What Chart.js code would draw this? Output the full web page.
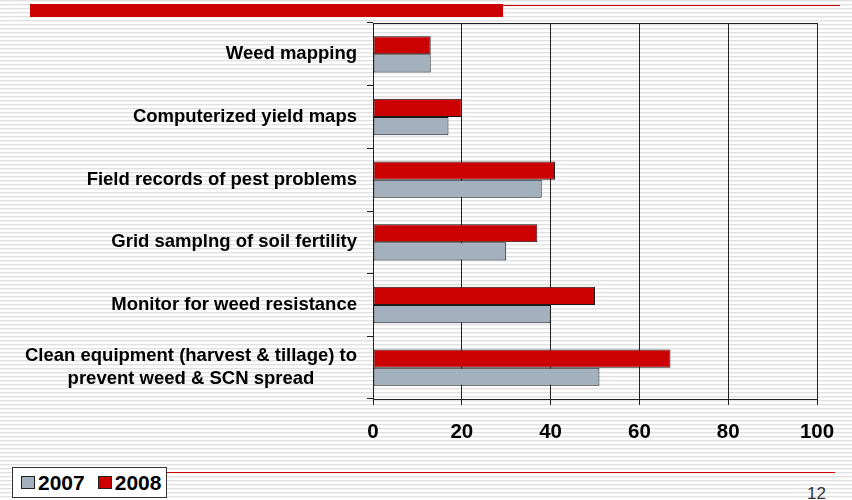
<!DOCTYPE html>
<html>
<head>
<meta charset="utf-8">
<script src="https://cdn.jsdelivr.net/npm/chart.js@4/dist/chart.umd.min.js"></script>
<style>
    body {
        margin: 0;
        width: 852px;
        height: 500px;
        position: relative;
        overflow: hidden;
        font-family: 'Liberation Sans', Arial, sans-serif;
        background: repeating-linear-gradient(to bottom, #e1e1e1 0px, #e1e1e1 1px, #f3f3f3 1px, #f3f3f3 2px, #ffffff 2px, #ffffff 4px);
    }
    #chart-box {
        position: absolute;
        left: 0;
        top: 0;
        width: 852px;
        height: 460px;
    }
    .top-bar {
        position: absolute;
        left: 30px;
        top: 4px;
        width: 473px;
        height: 13px;
        background: #cc0000;
    }
    .top-line {
        position: absolute;
        left: 503px;
        top: 5px;
        width: 337px;
        height: 1px;
        background: #cc0000;
    }
    .bottom-line {
        position: absolute;
        left: 166px;
        top: 472px;
        width: 669px;
        height: 1px;
        background: #cc0000;
    }
    #legend {
        position: absolute;
        left: 12px;
        top: 467px;
        height: 29px;
        padding: 0 5px 0 8px;
        border: 1px solid #333;
        background: #fff;
        display: flex;
        align-items: center;
        font-weight: bold;
        font-size: 21px;
        color: #000;
    }
    #legend .item {
        display: flex;
        align-items: center;
        margin-right: 13px;
    }
    #legend .item:last-child { margin-right: 0; }
    #legend .swatch {
        width: 12px;
        height: 11px;
        border: 1px solid #222;
        margin-right: 3px;
    }
    .page-num {
        position: absolute;
        left: 807px;
        top: 484px;
        font-size: 17px;
        color: #333;
    }
</style>
</head>
<body>
<div class="top-bar"></div>
<div class="top-line"></div>
<div id="chart-box"><canvas id="chart"></canvas></div>
<div class="bottom-line"></div>
<div id="legend"></div>
<div class="page-num">12</div>

<script>
const categories = [
    'Weed mapping',
    'Computerized yield maps',
    'Field records of pest problems',
    'Grid samplng of soil fertility',
    'Monitor for weed resistance',
    ['Clean equipment (harvest & tillage) to', 'prevent weed & SCN spread']
];
const values2008 = [13, 20, 41, 37, 50, 67];
const values2007 = [13, 17, 38, 30, 40, 51];
const xTicks = [0, 20, 40, 60, 80, 100];

const RED = '#cc0000';
const GREY = '#a3b1bf';
const FONT = "'Liberation Sans', Arial, sans-serif";

// category labels: single lines right-aligned, the two-line one centred as a block
const labelPlugin = {
    id: 'catLabels',
    afterDraw(chart) {
        const ctx = chart.ctx;
        const y = chart.scales.y;
        const right = y.right - 16;
        ctx.save();
        ctx.font = 'bold 18.5px ' + FONT;
        ctx.fillStyle = '#000';
        ctx.textBaseline = 'middle';
        ctx.textAlign = 'center';
        categories.forEach((lab, i) => {
            const lines = Array.isArray(lab) ? lab : [lab];
            const w = Math.max(...lines.map(l => ctx.measureText(l).width));
            const cy = y.getPixelForValue(i);
            lines.forEach((l, j) => {
                ctx.fillText(l, right - w / 2, cy + (j - (lines.length - 1) / 2) * 23);
            });
        });
        ctx.restore();
    }
};

const chart = new Chart(document.querySelector('#chart').getContext('2d'), {
    type: 'bar',
    data: {
        labels: categories,
        datasets: [
            {
                label: '2008',
                data: values2008,
                backgroundColor: RED,
                borderColor: '#1a1a1a',
                borderWidth: 1,
                borderSkipped: false
            },
            {
                label: '2007',
                data: values2007,
                backgroundColor: GREY,
                borderColor: '#1a1a1a',
                borderWidth: 1,
                borderSkipped: false
            }
        ]
    },
    options: {
        indexAxis: 'y',
        responsive: true,
        maintainAspectRatio: false,
        animation: false,
        layout: {
            padding: { top: 23, right: 35, bottom: 0, left: 0 }
        },
        plugins: {
            legend: { display: false },
            tooltip: { enabled: false }
        },
        datasets: {
            bar: { categoryPercentage: 0.58, barPercentage: 1.0 }
        },
        scales: {
            x: {
                min: 0,
                max: 100,
                afterBuildTicks: (scale) => {
                    scale.ticks = xTicks.map(v => ({ value: v }));
                },
                afterFit: (scale) => {
                    scale.height = 61;
                },
                grid: {
                    color: '#222',
                    lineWidth: 1,
                    tickLength: 6
                },
                border: { color: '#222', width: 1 },
                ticks: {
                    padding: 15,
                    color: '#000',
                    font: { family: FONT, size: 20.5, weight: 'bold' }
                }
            },
            x2: {
                type: 'linear',
                position: 'top',
                min: 0,
                max: 100,
                afterFit: (scale) => {
                    scale.height = 0;
                },
                grid: { display: false },
                ticks: { display: false },
                border: { color: '#222', width: 1 }
            },
            y: {
                afterFit: (scale) => {
                    scale.width = 373;
                },
                grid: {
                    drawOnChartArea: false,
                    color: '#222',
                    tickLength: 6,
                    offset: true
                },
                border: { color: '#222', width: 1 },
                ticks: { display: false }
            }
        }
    },
    plugins: [labelPlugin]
});

// legend in the order of the original slide: 2007 first
const legendBox = document.querySelector('#legend');
chart.data.datasets.slice().reverse().forEach(ds => {
    const item = document.createElement('div');
    item.className = 'item';
    item.innerHTML = '<span class="swatch" style="background:' + ds.backgroundColor + '"></span>' + ds.label;
    legendBox.appendChild(item);
});
</script>
</body>
</html>
